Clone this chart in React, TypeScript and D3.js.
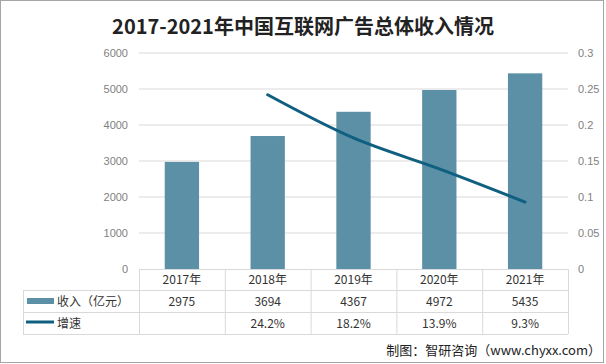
import { useEffect } from 'react';
import * as d3 from 'd3';

const years = ['2017年', '2018年', '2019年', '2020年', '2021年'];
const revenue = [2975, 3694, 4367, 4972, 5435];
const growth = [null, 0.242, 0.182, 0.139, 0.093];
const growthLabels = ['', '24.2%', '18.2%', '13.9%', '9.3%'];
const leftTicks = [0, 1000, 2000, 3000, 4000, 5000, 6000];
const rightTicks = [0, 0.05, 0.1, 0.15, 0.2, 0.25, 0.3];

const W = 606;
const H = 364;
const BAR = '#5b90a7';
const LINE = '#0f5f80';
const GRID = '#d9d9d9';
const CJK = '"Noto Sans CJK SC", "Noto Sans", sans-serif';

export default function App() {
  useEffect(() => {
    document.body.style.margin = '0';
  }, []);

  const left = 139;
  const right = 568;
  const top = 53;
  const bottom = 269;

  const x = d3.scaleBand<string>().domain(years).range([left, right]).padding(0);
  const yL = d3.scaleLinear().domain([0, 6000]).range([bottom, top]);
  const yR = d3.scaleLinear().domain([0, 0.3]).range([bottom, top]);
  const bw = x.bandwidth() * 0.4;
  const cx = (y: string) => (x(y) ?? 0) + x.bandwidth() / 2;

  const linePts = years
    .map((y, i) => [cx(y), growth[i]] as [number, number | null])
    .filter((d) => d[1] !== null) as [number, number][];
  const line = d3
    .line<[number, number]>()
    .x((d) => d[0])
    .y((d) => yR(d[1]))
    .curve(d3.curveCatmullRom.alpha(0.5));

  const rowH = [bottom, 290, 312, 334];
  const tableLeft = 23;

  return (
    <svg width={W} height={H} style={{ display: 'block', background: '#fff' }}>
      <rect x={0.5} y={0.5} width={W - 3} height={H - 2} fill="#fff" stroke="#a6a6a6" />
      <text
        x={W / 2}
        y={34}
        textAnchor="middle"
        fontFamily={CJK}
        fontWeight="bold"
        fontSize={20}
        fill="#222"
      >
        2017-2021年中国互联网广告总体收入情况
      </text>

      {/* gridlines */}
      {leftTicks.slice(1).map((t) => (
        <line key={t} x1={left} x2={right} y1={yL(t)} y2={yL(t)} stroke={GRID} />
      ))}

      {/* axis labels */}
      {leftTicks.map((t) => (
        <text
          key={t}
          x={128}
          y={yL(t) + 4}
          textAnchor="end"
          fontFamily="Liberation Sans, Arial, sans-serif"
          fontSize={11}
          fill="#7f7f7f"
        >
          {t}
        </text>
      ))}
      {rightTicks.map((t) => (
        <text
          key={t}
          x={578}
          y={yR(t) + 4}
          textAnchor="start"
          fontFamily="Liberation Sans, Arial, sans-serif"
          fontSize={11}
          fill="#7f7f7f"
        >
          {t}
        </text>
      ))}

      {/* bars */}
      {years.map((y, i) => (
        <rect
          key={y}
          x={cx(y) - bw / 2}
          y={yL(revenue[i])}
          width={bw}
          height={bottom - yL(revenue[i])}
          fill={BAR}
        />
      ))}

      {/* growth line */}
      <path
        d={line(linePts) ?? ''}
        fill="none"
        stroke={LINE}
        strokeWidth={3}
        strokeLinejoin="round"
        strokeLinecap="round"
      />

      {/* data table */}
      <g stroke={GRID} fill="none">
        <line x1={left} x2={right} y1={rowH[0] + 0.5} y2={rowH[0] + 0.5} />
        <line x1={tableLeft} x2={right} y1={rowH[1] + 0.5} y2={rowH[1] + 0.5} />
        <line x1={tableLeft} x2={right} y1={rowH[2] + 0.5} y2={rowH[2] + 0.5} />
        <line x1={tableLeft} x2={right} y1={rowH[3] + 0.5} y2={rowH[3] + 0.5} />
        <line x1={tableLeft + 0.5} x2={tableLeft + 0.5} y1={rowH[1]} y2={rowH[3]} />
        {years.map((y) => (
          <line key={y} x1={(x(y) ?? 0) + 0.5} x2={(x(y) ?? 0) + 0.5} y1={rowH[0]} y2={rowH[3]} />
        ))}
        <line x1={right + 0.5} x2={right + 0.5} y1={rowH[0]} y2={rowH[3]} />
      </g>

      {years.map((y, i) => (
        <g key={y} fontFamily={CJK} fontSize={12} fill="#333" textAnchor="middle">
          <text x={cx(y)} y={284}>{y}</text>
          <text x={cx(y)} y={306}>{revenue[i]}</text>
          <text x={cx(y)} y={328}>{growthLabels[i]}</text>
        </g>
      ))}

      {/* legend cells */}
      <rect x={27} y={298} width={27} height={6} fill={BAR} />
      <text x={57} y={306} fontFamily={CJK} fontSize={12} fill="#333">
        收入（亿元）
      </text>
      <line x1={26} x2={54} y1={322} y2={322} stroke={LINE} strokeWidth={3} />
      <text x={57} y={328} fontFamily={CJK} fontSize={12} fill="#333">
        增速
      </text>

      <text x={601} y={355} textAnchor="end" fontFamily={CJK} fontSize={13} fill="#222">
        制图：智研咨询（www.chyxx.com）
      </text>
    </svg>
  );
}
